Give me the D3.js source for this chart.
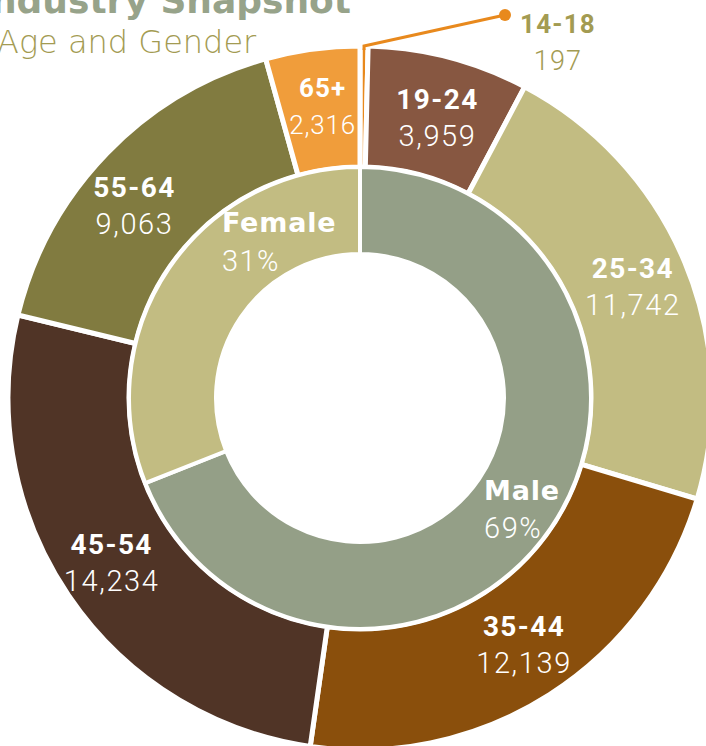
<!DOCTYPE html>
<html><head><meta charset="utf-8">
<script src="https://cdn.jsdelivr.net/npm/d3@7"></script>
<style>
html,body{margin:0;padding:0;background:#fff;overflow:hidden;}
svg{display:block;}
</style></head>
<body>
<svg id="chart" width="706" height="746"></svg>
<script>
// ---- data ----
const ageGroups = ["14-18","19-24","25-34","35-44","45-54","55-64","65+"];
const ageCounts = [197,3959,11742,12139,14234,9063,2316];
const ageColors = ["#e8891d","#875741","#c2bc82","#8a4f0c","#503426","#817b40","#f09d3b"];
const genders = ["Male","Female"];
const genderShares = [69,31];
const genderColors = ["#949f87","#c2bc82"];
const titleText = "Industry Snapshot";
const subtitleText = "Age and Gender";

const svg = d3.select("#chart");
const cx = 360, cy = 398;
const R = 352, Rmid = 231, Rhole = 144;

const g = svg.append("g").attr("transform", `translate(${cx},${cy})`);
const pie = d3.pie().sort(null).value(d => d.v);

const ageData = pie(ageGroups.map((k,i)=>({k, v: ageCounts[i], c: ageColors[i]})));
const genderData = pie(genders.map((k,i)=>({k, v: genderShares[i], c: genderColors[i]})));

const outerArc = d3.arc().innerRadius(Rmid).outerRadius(R);
const innerArc = d3.arc().innerRadius(Rhole).outerRadius(Rmid);

g.selectAll("path.age").data(ageData).join("path")
  .attr("class","age").attr("d", outerArc).attr("fill", d=>d.data.c)
  .attr("stroke","#fff").attr("stroke-width",5);
g.selectAll("path.gender").data(genderData).join("path")
  .attr("class","gender").attr("d", innerArc).attr("fill", d=>d.data.c)
  .attr("stroke","#fff").attr("stroke-width",4);

const fmt = d3.format(",");
const boldFont = "Roboto, 'DejaVu Sans', sans-serif";
// small label nudges (layout only)
const nudge = {"65+":[2,-5], "55-64":[-16,9], "35-44":[7,-1], "45-54":[-7,0], "19-24":[4,0], "25-34":[4,0]};

ageData.forEach((d,i)=>{
  if (i === 0) {
    const a0 = d.startAngle + (d.endAngle-d.startAngle)/2;
    const px = Math.sin(a0)*(R-2), py = -Math.cos(a0)*(R-2);
    const ex = 145, ey = -383;
    g.append("path").attr("d", `M${px},${py+2}L${px},${py-2}L${ex},${ey}`)
      .attr("fill","none").attr("stroke","#e8891d").attr("stroke-width",3);
    g.append("circle").attr("cx",ex).attr("cy",ey).attr("r",6).attr("fill","#e8891d");
    const x = 198, col = "#a39b52";
    const t = g.append("text").attr("text-anchor","middle").attr("fill",col);
    t.append("tspan").attr("x",x).attr("y",-365).attr("font-family",boldFont).attr("font-weight",700)
      .attr("font-size",26).attr("letter-spacing",1.2).text(d.data.k);
    t.append("tspan").attr("x",x).attr("y",-328).attr("font-family",boldFont).attr("font-weight",300)
      .attr("font-size",27).attr("letter-spacing",1.2).text(fmt(d.data.v));
    return;
  }
  let [mx,my] = outerArc.centroid(d);
  const n = nudge[d.data.k] || [0,0];
  mx += n[0]; my += n[1];
  const small = (d.endAngle - d.startAngle) < 0.35;
  const t = g.append("text").attr("text-anchor","middle").attr("fill","#fff");
  t.append("tspan").attr("x",mx).attr("y",my-7).attr("font-family",boldFont).attr("font-weight",700)
    .attr("font-size",small?26:28).attr("letter-spacing",small?1:1.4).text(d.data.k);
  t.append("tspan").attr("x",mx).attr("y",my+30).attr("font-family",boldFont).attr("font-weight",300)
    .attr("font-size",small?26:29).attr("letter-spacing",small?0.8:1.6).text(fmt(d.data.v));
});

// inner labels
genderData.forEach((d)=>{
  const [mx,my] = innerArc.centroid(d);
  let lx = mx - 31, ly1 = my - 3, ly2 = my + 35;
  if (d.data.k === "Female") { lx = mx + 17; ly1 = my - 61; ly2 = my - 22; }
  const t = g.append("text").attr("text-anchor","start").attr("fill","#fff");
  t.append("tspan").attr("x",lx).attr("y",ly1).attr("font-family","'DejaVu Sans', sans-serif")
    .attr("font-weight",700).attr("font-size",27).attr("letter-spacing",0.8).text(d.data.k);
  t.append("tspan").attr("x",lx).attr("y",ly2).attr("font-family",boldFont)
    .attr("font-weight",300).attr("font-size",29).attr("letter-spacing",1.5).text(d.data.v + "%");
});

// titles
svg.append("text").attr("x",351).attr("y",13).attr("text-anchor","end")
  .attr("font-family","'DejaVu Sans', sans-serif").attr("font-weight",700)
  .attr("font-size",36).attr("fill","#97a38a").text(titleText);
svg.append("text").attr("x",-3).attr("y",53)
  .attr("font-family","'DejaVu Sans', sans-serif").attr("font-weight",200)
  .attr("font-size",32).attr("fill","#a39b52").text(subtitleText);
</script>
</body></html>
